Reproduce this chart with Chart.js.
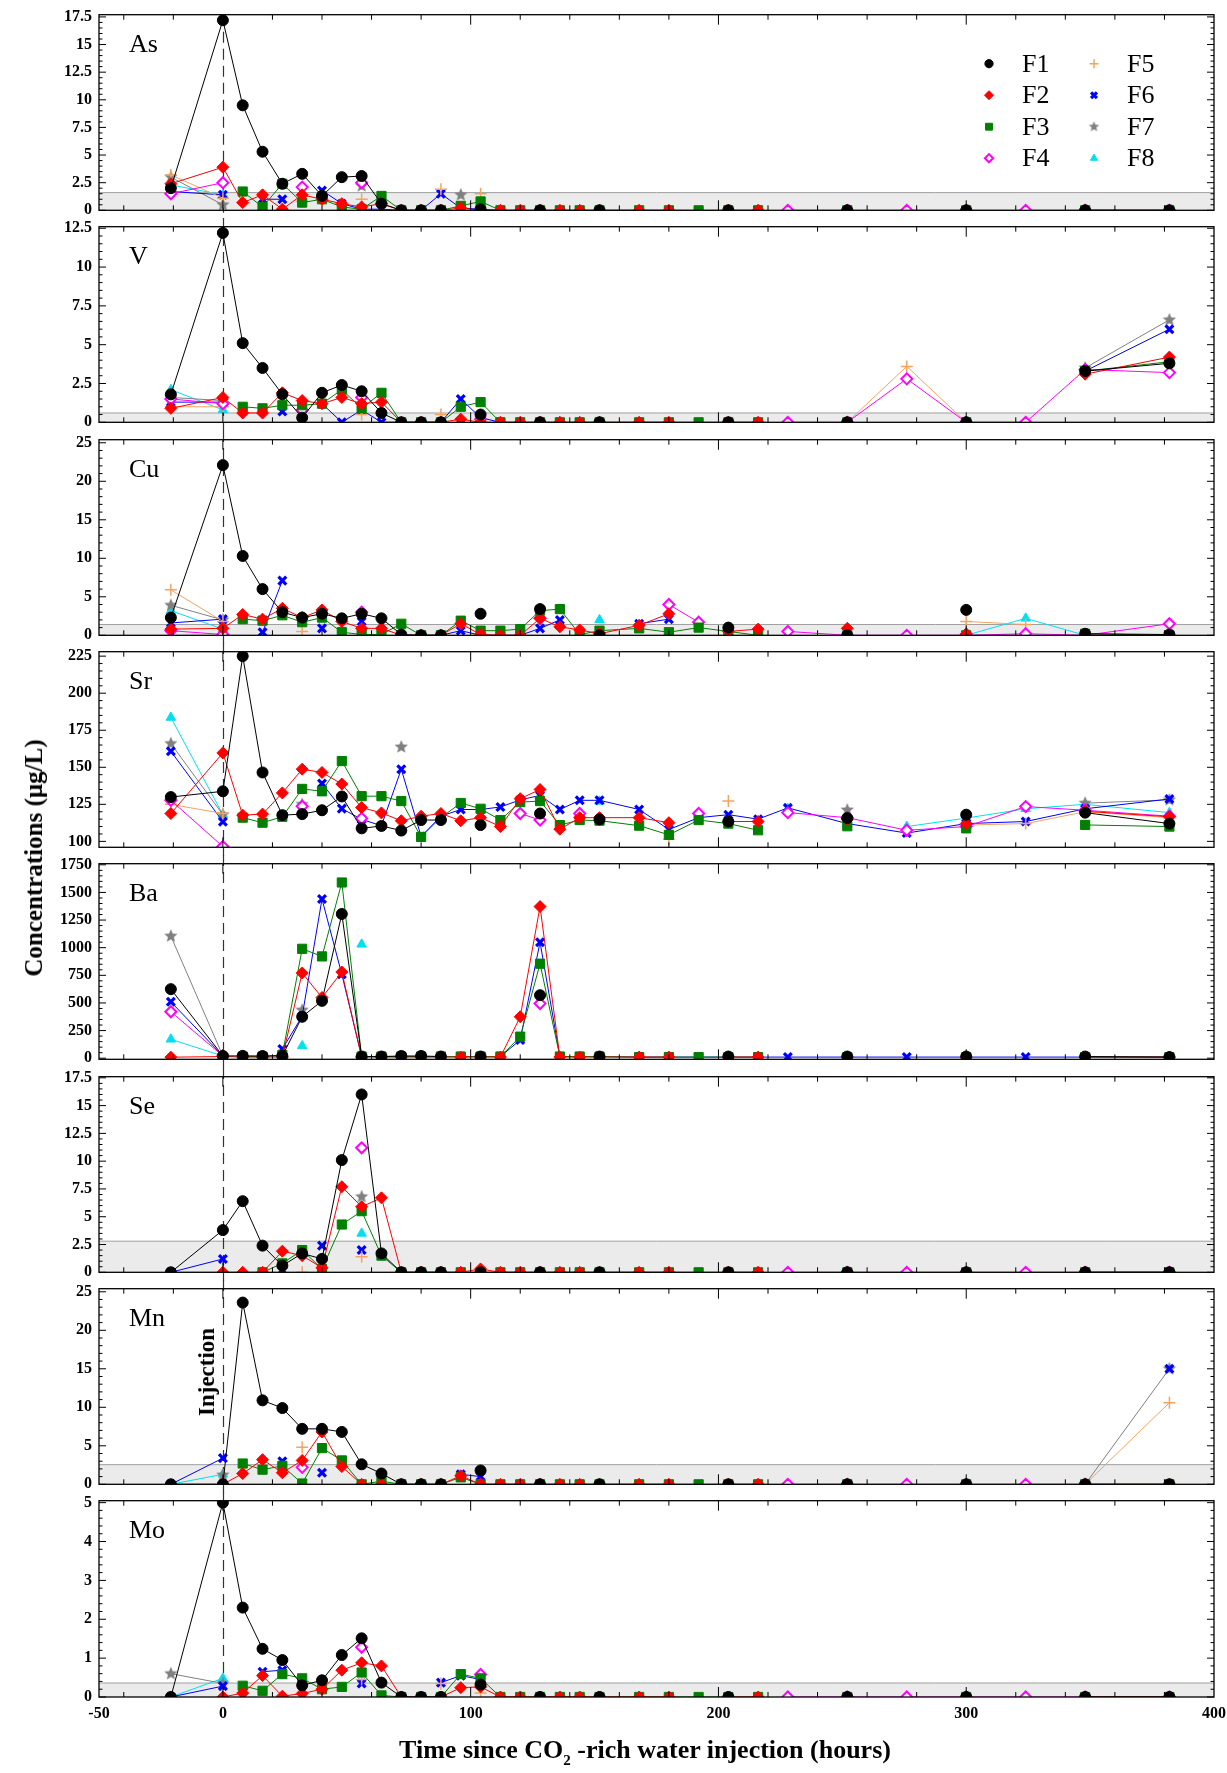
<!DOCTYPE html>
<html>
<head>
<meta charset="utf-8">
<script src="https://cdn.jsdelivr.net/npm/chart.js@4.4.1/dist/chart.umd.min.js"></script>
<style>
  body { margin: 0; background: #fff; width: 1227px; height: 1773px; position: relative; overflow: hidden;
         font-family: "Liberation Serif", "Times New Roman", serif; }
  canvas { position: absolute; left: 0; }
  .rot { position: absolute; white-space: nowrap; font-weight: bold; transform: translate(-50%, -50%) rotate(-90deg); }
  #ytitle { left: 34px; top: 858px; font-size: 25px; }
  #inj { left: 207px; top: 1372px; font-size: 23px; }
  #xtitle { position: absolute; left: 645px; top: 1752px; transform: translate(-50%, -50%); white-space: nowrap;
            font-weight: bold; font-size: 26px; }
  #xtitle sub { font-size: 15px; }
</style>
</head>
<body>
<div id="charts"></div>
<div id="ytitle" class="rot">Concentrations (µg/L)</div>
<div id="inj" class="rot">Injection</div>
<div id="xtitle">Time since CO<sub>2</sub> -rich water injection (hours)</div>
<script>
const _ = null;

// sampling times (hours since injection)
const hours = [-21, 0, 8, 16, 24, 32, 40, 48, 56, 64,
  72, 80, 88, 96, 104, 112, 120, 128, 136, 144, 152, 168, 180,
  192, 204, 216, 228, 252, 276, 300, 324, 348, 382];

const wells = ['F1', 'F2', 'F3', 'F4', 'F5', 'F6', 'F7', 'F8'];
const elements = ['As', 'V', 'Cu', 'Sr', 'Ba', 'Se', 'Mn', 'Mo'];

const yMin = [0, 0, 0, 96, -10, 0, 0, 0];
const yMax = [17.7, 12.6, 25.4, 228, 1760, 17.6, 25.4, 5.05];
const yTicks = [
  [0, 2.5, 5, 7.5, 10, 12.5, 15, 17.5],
  [0, 2.5, 5, 7.5, 10, 12.5],
  [0, 5, 10, 15, 20, 25],
  [100, 125, 150, 175, 200, 225],
  [0, 250, 500, 750, 1000, 1250, 1500, 1750],
  [0, 2.5, 5, 7.5, 10, 12.5, 15, 17.5],
  [0, 5, 10, 15, 20, 25],
  [0, 1, 2, 3, 4, 5]
];
// detection limit band
const lod = [1.6, 0.6, 1.4, _, _, 2.8, 2.55, 0.36];
const xLabels = [-50, 0, 100, 200, 300, 400];

// ---- As ----
const asF1 = [2.0,17.2,9.5,5.3,2.4,3.3,1.3,3.0,3.1,0.6, 0,0,0,_,0.1,_,_,0,_,_,0,_,_, _,0,_,_,0,_,0,_,0,0];
const asF2 = [2.4,3.9,0.7,1.4,0.1,1.4,1.0,0.6,0.3,0.6, 0,0,0,0.2,0,0,0,0,0,0,0,0,0, _,0,0,_,0,_,0,_,0,0];
const asF3 = [_,_,1.7,0.3,2.4,0.7,1.0,0.3,0.1,1.3, 0,0,0,0.4,0.8,0,0,0,0,0,0,0,0, 0,0,0,_,0,_,0,_,0,0];
const asF4 = [1.5,2.5,_,_,_,2.1,_,_,2.5,_, _,_,_,_,_,_,_,_,_,_,_,_,_, _,_,_,0,0,0,0,0,0,0];
const asF5 = [3.2,1.1,_,_,_,0.8,_,_,1.0,_, _,_,1.9,_,1.5,_,_,_,_,_,_,_,_, _,_,_,_,_,_,_,_,_,_];
const asF6 = [1.7,1.4,_,1.0,1.0,_,1.8,0.6,0.1,0.1, 0,0,1.5,0.2,0.1,0,_,_,_,_,_,_,_, _,_,_,_,_,_,_,_,_,_];
const asF7 = [3.0,0.5,_,_,_,_,_,_,2.2,_, _,_,_,1.4,_,_,_,_,_,_,_,_,_, _,_,_,_,_,_,_,_,_,_];
const asF8 = [2.3,1.4,_,_,_,_,_,_,_,_, _,_,_,_,_,_,_,_,_,_,_,_,_, _,_,_,_,_,_,_,_,_,_];

// ---- V ----
const vF1 = [1.8,12.2,5.1,3.5,1.8,0.3,1.9,2.4,2.0,0.6, 0,0,0,_,0.5,_,_,0,_,_,0,_,_, _,0,_,_,0,_,0,_,3.3,3.8];
const vF2 = [0.9,1.6,0.6,0.6,1.9,1.4,1.2,1.6,1.2,1.3, 0,0,0,0.2,0,0,0,0,0,0,0,0,0, _,0,0,_,0,_,0,_,3.1,4.2];
const vF3 = [_,_,1.0,0.9,1.1,1.1,1.2,2.1,0.9,1.9, 0,0,0,1.0,1.3,0,0,0,0,0,0,0,0, 0,0,0,_,0,_,0,_,3.3,3.9];
const vF4 = [1.5,1.2,_,_,_,0.8,_,_,1.6,_, _,_,_,_,0.2,_,_,_,_,_,_,_,_, _,_,_,0,0,2.8,0,0,3.4,3.2];
const vF5 = [1.0,1.0,_,_,_,_,_,_,0.5,_, _,_,0.5,_,_,_,_,_,_,_,_,_,_, _,_,_,_,0,3.6,0,_,3.4,_];
const vF6 = [1.3,1.3,_,_,0.7,_,1.2,0,0.8,0, 0,0,0,1.5,0.3,0,_,_,_,_,_,_,_, _,_,_,_,_,_,_,_,3.3,6.0];
const vF7 = [1.6,1.4,_,_,_,_,_,_,_,_, _,_,_,_,_,_,_,_,_,_,_,_,_, _,_,_,_,_,_,_,_,3.5,6.6];
const vF8 = [2.1,0.8,_,_,_,_,_,_,_,_, _,_,_,_,_,_,_,_,_,_,_,_,_, _,_,_,_,_,_,_,_,_,_];

// ---- Cu ----
const cuF1 = [2.3,22.1,10.3,6.0,3.0,2.3,2.8,2.2,2.8,2.2, 0.1,0,0,_,2.8,_,_,3.4,_,_,0,_,_, _,1.0,_,_,0,_,3.3,_,0.2,0.1];
const cuF2 = [0.8,0.9,2.7,2.1,3.5,2.3,3.3,1.8,0.9,0.9, 0,0,0,1.5,0.1,0,0,2.2,1.1,0.7,0.2,1.3,2.8, _,0.5,0.8,_,0.9,_,0.2,_,0,0];
const cuF3 = [_,_,2.1,1.9,2.6,1.7,2.3,0.4,0.1,0.1, 1.5,0,0,1.9,0.6,0.6,0.8,3.2,3.4,0.1,0.6,0.9,0.4, 1.0,0.5,0,_,0,_,0,_,0.2,0];
const cuF4 = [0.6,0.1,_,_,_,_,_,_,3.0,_, _,_,_,_,_,_,_,2.2,_,_,_,_,4.0, 1.7,_,_,0.5,0,0,0,0.2,0,1.5];
const cuF5 = [5.9,1.8,_,_,_,0.5,_,_,_,_, _,_,_,_,_,_,_,_,_,_,_,_,_, _,_,_,_,_,_,1.8,1.4,_,_];
const cuF6 = [1.6,2.1,_,0.4,7.1,_,0.9,_,1.8,_, 0,0,0,0.6,0,0,0,0.9,2.0,_,_,1.5,2.1, _,_,_,_,_,_,_,_,_,_];
const cuF7 = [3.9,2.0,_,_,_,_,_,_,_,_, _,_,_,_,_,_,_,_,_,_,_,_,_, _,_,_,_,_,_,_,_,_,_];
const cuF8 = [3.2,0.8,_,_,_,_,_,_,_,_, _,_,_,_,_,_,_,_,_,_,2.0,_,_, _,_,_,_,_,_,0,2.2,0,_];

// ---- Sr ----
const srF1 = [129.9,133.8,225,146.5,117.7,118.4,121,130.3,108.8,110.4, 107.3,114.4,114.4,_,111,_,_,118.8,_,_,114.8,_,_, _,113.4,_,_,115.7,_,118,_,119.4,112];
const srF2 = [118.8,159.7,117.7,118.4,132.7,148.7,146.5,138.7,122.8,119.2, 113.9,117,118.8,113.9,116,110,128.8,135,108.2,116,116,116,112.6, _,113.4,113.4,_,115,_,112,_,120.3,116.6];
const srF3 = [_,_,116,112.6,116.6,135.4,133.8,154.2,130.5,130.5, 127.2,103,116,125.9,122,114.4,126.5,127.2,111,114.4,114,110.6,104.4, 114.4,112,107.5,_,110.2,_,108.8,_,111.1,110];
const srF4 = [127.7,96.5,_,_,_,123.7,_,_,115.5,_, _,_,_,_,_,_,118.8,114.4,_,118.8,_,_,_, 118.8,_,_,119.4,116,107.5,110,123.5,121,117];
const srF5 = [125,118.8,_,_,_,_,_,_,_,_, _,_,_,_,_,_,_,_,_,_,_,_,101.5, _,127.2,_,_,_,_,111,112,120,116];
const srF6 = [160.8,113.3,_,_,117.7,_,139,122.1,114.8,110.6, 148.7,103.3,117,121.5,121.5,123.2,128,131,121.5,127.7,127.7,121.5,108, 116,118,115,122.6,112,105.6,112,113.4,122,128.6];
const srF7 = [166,118,_,_,_,125,_,_,_,_, 163.7,_,_,_,_,_,_,_,_,_,_,_,_, _,_,_,_,121.2,_,_,_,125.8,128];
const srF8 = [183.6,118,_,_,_,_,_,_,_,_, _,_,_,_,_,_,_,_,_,_,127,_,_, _,_,_,122,_,110,115.7,122,125,119.4];

// ---- Ba ----
const baF1 = [625,20,21,20,21,375,519,1305,15,15, 20,20,15,_,15,_,_,570,_,_,15,_,_, _,15,_,_,15,_,15,_,15,10];
const baF2 = [9,15,10,10,10,771,549,780,10,10, 10,10,10,10,10,10,375,1372,10,10,10,10,10, _,10,10,_,10,_,10,_,10,10];
const baF3 = [_,_,15,15,30,990,921,1590,15,15, 15,15,15,15,15,15,195,855,15,15,15,10,10, 10,10,10,_,10,_,10,_,10,10];
const baF4 = [420,20,_,_,_,_,_,_,_,_, _,_,_,_,_,_,_,495,_,_,_,_,_, _,_,_,_,_,_,_,_,_,_];
const baF5 = [_,_,_,_,_,_,_,_,_,_, _,_,_,_,_,_,_,_,_,_,_,_,_, _,_,_,_,_,_,_,_,_,_];
const baF6 = [510,20,_,_,84,380,1440,759,15,15, 15,15,15,15,15,15,165,1050,15,15,15,10,10, 10,10,10,10,10,10,10,10,10,10];
const baF7 = [1105,20,_,_,_,435,_,_,_,_, _,_,_,_,_,_,_,_,_,_,_,_,_, _,_,_,_,_,_,_,_,_,_];
const baF8 = [171,20,_,_,_,111,_,_,1030,_, _,_,_,_,_,_,_,_,_,_,_,_,_, _,_,_,_,_,_,_,_,_,_];

// ---- Se ----
const seF1 = [0,3.8,6.4,2.4,0.6,1.7,1.2,10.1,16.0,1.7, 0,0,0,_,0,_,_,0,_,_,0,_,_, _,0,_,_,0,_,0,_,0,0];
const seF2 = [_,0,0,0,1.9,1.5,0.4,7.7,5.9,6.7, 0,0,0,0,0.3,0,0,0,0,0,0,0,0, _,0,0,_,0,_,0,_,0,0];
const seF3 = [_,_,_,0,0.8,2.0,0.3,4.3,5.5,1.5, 0,0,0,0,0,0,0,0,0,0,0,0,0, 0,0,0,_,0,_,0,_,0,0];
const seF4 = [_,_,_,_,_,_,_,_,11.2,_, _,_,_,_,_,_,_,_,_,_,_,_,_, _,_,_,0,0,0,0,0,0,0];
const seF5 = [_,_,_,_,_,0,_,_,1.4,_, _,_,_,_,_,_,_,_,_,_,_,_,_, _,_,_,_,_,_,_,_,_,_];
const seF6 = [0,1.2,_,_,0.2,_,2.4,_,2.0,_, 0,_,_,_,_,_,_,_,_,_,_,_,_, _,_,_,_,_,_,_,_,_,_];
const seF7 = [_,_,_,_,_,_,_,_,6.8,_, _,_,_,_,_,_,_,_,_,_,_,_,_, _,_,_,_,_,_,_,_,_,_];
const seF8 = [0,0,_,_,_,_,_,_,3.5,_, _,_,_,_,_,_,_,_,_,_,_,_,_, _,_,_,_,_,_,_,_,_,_];

// ---- Mn ----
const mnF1 = [0,0,23.6,10.9,9.9,7.2,7.2,6.8,2.6,1.4, 0,0,0,_,1.8,_,_,0,_,_,0,_,_, _,0,_,_,0,_,0,_,0,0];
const mnF2 = [_,0,1.4,3.2,1.5,3.1,6.8,2.3,0,0, 0,0,0,1.1,0,0,0,0,0,0,0,0,0, _,0,0,_,0,_,0,_,0,0];
const mnF3 = [_,_,2.7,1.9,2.4,0.1,4.7,3.1,0,0.4, 0,0,0,0.9,0,0,0,0,0,0,0,0,0, 0,0,0,_,0,_,0,_,0,0];
const mnF4 = [_,_,_,_,_,2.2,_,_,_,_, _,_,_,_,_,_,_,_,_,_,_,_,_, _,_,_,0,0,0,0,0,0,_];
const mnF5 = [_,_,_,_,_,4.8,_,_,_,_, _,_,_,_,_,_,_,_,_,_,_,_,_, _,_,_,_,_,_,_,_,0,10.6];
const mnF6 = [0,3.4,_,_,3.0,_,1.5,_,_,_, 0,_,_,1.3,1.0,_,_,_,_,_,_,_,_, _,_,_,_,_,_,_,_,_,15];
const mnF7 = [_,1.2,_,_,_,_,_,_,_,_, _,_,_,_,_,_,_,_,_,_,_,_,_, _,_,_,_,_,_,_,_,0,15];
const mnF8 = [0,1.3,_,_,_,_,_,_,_,_, _,_,_,_,_,_,_,_,_,_,_,_,_, _,_,_,_,_,_,_,_,_,_];

// ---- Mo ----
const moF1 = [0,5.0,2.3,1.24,0.95,0.3,0.43,1.08,1.51,0.37, 0,0,0,_,0.32,_,_,0,_,_,0,_,_, _,0,_,_,0,_,0,_,0,0];
const moF2 = [_,0,0.1,0.55,0.02,0.09,0.2,0.69,0.88,0.8, 0,0,0,0.24,0.26,0,0,0,0,0,0,0,0, _,0,0,_,0,_,0,_,0,0];
const moF3 = [_,_,0.29,0.16,0.59,0.48,0.2,0.26,0.63,0.04, 0,0,0,0.59,0.48,0,0,0,0,0,0,0,0, 0,0,0,_,0,_,0,_,0,0];
const moF4 = [_,_,_,_,_,_,_,_,1.28,_, _,_,_,_,0.58,_,_,_,_,_,_,_,_, _,_,_,0,0,0,0,0,0,0];
const moF5 = [_,_,_,_,_,_,_,_,0.45,_, _,_,0.35,_,0.1,_,_,_,_,_,_,_,_, _,_,_,_,_,_,_,_,_,_];
const moF6 = [0,0.28,_,0.65,0.69,_,_,_,0.35,_, 0,_,0.37,0.55,0.45,_,_,_,_,_,_,_,_, _,_,_,_,_,_,_,_,_,_];
const moF7 = [0.6,0.35,_,_,_,_,_,_,_,_, _,_,_,_,_,_,_,_,_,_,_,_,_, _,_,_,_,_,_,_,_,_,_];
const moF8 = [0,0.48,_,_,_,_,_,_,_,_, _,_,_,_,_,_,_,_,_,_,_,_,_, _,_,_,_,_,_,_,_,_,_];

const panelSeries = [
  [asF1, asF2, asF3, asF4, asF5, asF6, asF7, asF8],
  [vF1, vF2, vF3, vF4, vF5, vF6, vF7, vF8],
  [cuF1, cuF2, cuF3, cuF4, cuF5, cuF6, cuF7, cuF8],
  [srF1, srF2, srF3, srF4, srF5, srF6, srF7, srF8],
  [baF1, baF2, baF3, baF4, baF5, baF6, baF7, baF8],
  [seF1, seF2, seF3, seF4, seF5, seF6, seF7, seF8],
  [mnF1, mnF2, mnF3, mnF4, mnF5, mnF6, mnF7, mnF8],
  [moF1, moF2, moF3, moF4, moF5, moF6, moF7, moF8]
];

// filled five-point star, Chart.js only has an asterisk
function starImage(color, r) {
  const c = document.createElement('canvas');
  c.width = c.height = Math.ceil(2 * r + 2);
  const g = c.getContext('2d');
  const cx = c.width / 2, cy = c.height / 2;
  g.fillStyle = color;
  g.beginPath();
  for (let i = 0; i < 10; i++) {
    const a = -Math.PI / 2 + i * Math.PI / 5;
    const rr = i % 2 ? r * 0.45 : r;
    g.lineTo(cx + rr * Math.cos(a), cy + rr * Math.sin(a));
  }
  g.closePath();
  g.fill();
  return c;
}

// marker styles per well
const styles = [
  { color: '#000000', fill: '#000000', shape: 'circle',   r: 5.5, bw: 1 },
  { color: '#ff0000', fill: '#ff0000', shape: 'rectRot',  r: 6,   bw: 1 },
  { color: '#008000', fill: '#008000', shape: 'rect',     r: 6.5, bw: 1 },
  { color: '#ff00ff', fill: '#ffffff', shape: 'rectRot',  r: 5.5, bw: 2 },
  { color: '#f4a460', fill: '#f4a460', shape: 'cross',    r: 6,   bw: 1.5 },
  { color: '#0000ff', fill: '#0000ff', shape: 'crossRot', r: 5.5, bw: 3.2 },
  { color: '#808080', fill: '#808080', shape: starImage('#808080', 7), r: 7, bw: 1 },
  { color: '#00e0f0', fill: '#00e0f0', shape: 'triangle', r: 5.5, bw: 1 }
];
const legendStar = starImage('#808080', 5.5);

// layout
const panelTop = [14, 226, 439, 651, 863, 1076, 1288, 1500];
const frameH = 197;
const padLeft = 99, padRight = 13, gapPad = 8, bottomExtra = 34;

const FONT = '"Liberation Serif", "Times New Roman", serif';

function line(ctx, x1, y1, x2, y2) {
  ctx.beginPath(); ctx.moveTo(x1, y1); ctx.lineTo(x2, y2); ctx.stroke();
}

const panelPlugin = {
  id: 'panel',
  beforeDatasetsDraw(chart, args, o) {
    const { ctx, chartArea: a } = chart;
    const xs = chart.scales.x, ys = chart.scales.y;
    ctx.save();
    if (o.lod !== null) {
      const yp = ys.getPixelForValue(o.lod);
      ctx.fillStyle = '#ebebeb';
      ctx.fillRect(a.left, yp, a.right - a.left, a.bottom - yp);
      ctx.strokeStyle = '#a0a0a0';
      ctx.lineWidth = 1;
      line(ctx, a.left, yp, a.right, yp);
    }
    // injection marker
    const xi = Math.round(xs.getPixelForValue(0)) + 0.5;
    ctx.strokeStyle = '#333';
    ctx.lineWidth = 1.2;
    ctx.setLineDash([11, 6]);
    line(ctx, xi, o.first ? a.top : 0, xi, o.last ? a.bottom : chart.height);
    ctx.restore();
  },
  afterDatasetsDraw(chart, args, o) {
    const { ctx, chartArea: a } = chart;
    const xs = chart.scales.x, ys = chart.scales.y;
    const p = o.index;
    ctx.save();
    ctx.strokeStyle = '#000';
    ctx.lineWidth = 1.3;
    ctx.strokeRect(a.left, a.top, a.right - a.left, a.bottom - a.top);

    // x ticks, inward, top and bottom
    ctx.lineWidth = 1;
    for (let h = -40; h < 400; h += 20) {
      const px = xs.getPixelForValue(h);
      const len = h % 100 === 0 ? 10 : 5;
      line(ctx, px, a.top, px, a.top + len);
      line(ctx, px, a.bottom, px, a.bottom - len);
    }
    // y ticks, both sides
    const vals = yTicks[p];
    const step = vals[1] - vals[0];
    const minor = step / 5;
    const k0 = Math.ceil((yMin[p] - vals[0]) / minor - 1e-9);
    const k1 = Math.floor((yMax[p] - vals[0]) / minor + 1e-9);
    for (let k = k0; k <= k1; k++) {
      const py = ys.getPixelForValue(vals[0] + k * minor);
      const len = k % 5 === 0 ? 7 : 3.5;
      line(ctx, a.left, py, a.left + len, py);
      line(ctx, a.right, py, a.right - len, py);
    }
    // y labels
    ctx.fillStyle = '#000';
    ctx.font = 'bold 16px ' + FONT;
    ctx.textAlign = 'right';
    ctx.textBaseline = 'middle';
    vals.forEach(v => ctx.fillText(String(v), a.left - 7, ys.getPixelForValue(v)));

    // element name
    ctx.font = '26px ' + FONT;
    ctx.textAlign = 'left';
    ctx.textBaseline = 'alphabetic';
    ctx.fillText(elements[p], a.left + 30, a.top + 37);

    // x labels on the bottom panel
    if (o.last) {
      ctx.font = 'bold 16px ' + FONT;
      ctx.textAlign = 'center';
      ctx.textBaseline = 'top';
      xLabels.forEach(v => ctx.fillText(String(v), xs.getPixelForValue(v), a.bottom + 9));
    }

    // legend in the first panel
    if (o.first) {
      ctx.font = '26px ' + FONT;
      ctx.textBaseline = 'middle';
      ctx.textAlign = 'left';
      wells.forEach((w, s) => {
        const col = Math.floor(s / 4), row = s % 4;
        const mx = a.right - 225 + col * 105;
        const my = a.top + 49 + row * 31.5;
        const st = styles[s];
        ctx.fillStyle = st.fill;
        ctx.strokeStyle = st.color;
        ctx.lineWidth = st.bw;
        const shape = typeof st.shape === 'string' ? st.shape : legendStar;
        Chart.helpers.drawPoint(ctx, { pointStyle: shape, radius: st.r * 0.75, borderWidth: st.bw, rotation: 0 }, mx, my);
        ctx.fillStyle = '#000';
        ctx.fillText(w, mx + 33, my + 1);
      });
    }
    ctx.restore();
  }
};

const holder = document.getElementById('charts');
elements.forEach((el, p) => {
  const first = p === 0, last = p === elements.length - 1;
  const cv = document.createElement('canvas');
  const h = frameH + 2 * gapPad + (last ? bottomExtra : 0);
  cv.width = 1227;
  cv.height = h;
  cv.style.top = (panelTop[p] - gapPad) + 'px';
  holder.appendChild(cv);

  const datasets = wells.map((w, s) => {
    const st = styles[s];
    return {
      label: w,
      data: hours.map((t, k) => ({ x: t, y: panelSeries[p][s][k] })),
      borderColor: st.color,
      backgroundColor: st.fill,
      borderWidth: 1,
      pointStyle: st.shape,
      pointRadius: st.r,
      pointHoverRadius: st.r,
      pointBorderWidth: st.bw,
      pointBackgroundColor: st.fill,
      pointBorderColor: st.color,
      tension: 0,
      fill: false,
      spanGaps: false
    };
  });

  new Chart(cv.getContext('2d'), {
    type: 'line',
    data: { datasets },
    options: {
      responsive: false,
      animation: false,
      devicePixelRatio: 1,
      layout: { padding: { left: padLeft, right: padRight, top: gapPad, bottom: gapPad + (last ? bottomExtra : 0) } },
      scales: {
        x: { type: 'linear', min: -50, max: 400, display: false },
        y: { type: 'linear', min: yMin[p], max: yMax[p], display: false }
      },
      plugins: {
        legend: { display: false },
        tooltip: { enabled: false },
        panel: { index: p, lod: lod[p], first, last }
      }
    },
    plugins: [panelPlugin]
  });
});
</script>
</body>
</html>
